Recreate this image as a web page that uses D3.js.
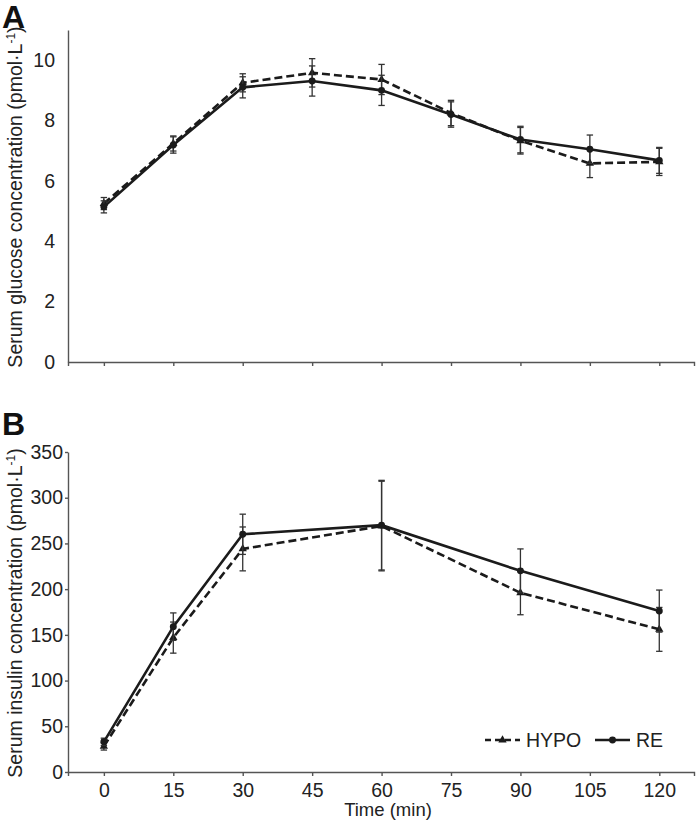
<!DOCTYPE html>
<html>
<head>
<meta charset="utf-8">
<script src="https://cdn.jsdelivr.net/npm/d3@7"></script>
<style>
  html, body { margin: 0; padding: 0; background: #fff; }
  svg { display: block; font-family: "Liberation Sans", Arial, sans-serif; }
</style>
</head>
<body>
<script>
// ---- data ----
const glucoseTimes = [0, 15, 30, 45, 60, 75, 90, 105, 120];
const glucoseHYPO = [5.25, 7.24, 9.25, 9.58, 9.36, 8.25, 7.33, 6.58, 6.63];
const glucoseHYPOErr = [0.2, 0.25, 0.3, 0.47, 0.5, 0.42, 0.44, 0.47, 0.45];
const glucoseRE = [5.14, 7.19, 9.10, 9.31, 9.0, 8.2, 7.37, 7.05, 6.68];
const glucoseREErr = [0.2, 0.27, 0.35, 0.5, 0.5, 0.42, 0.44, 0.47, 0.43];

const insulinTimes = [0, 15, 30, 60, 90, 120];
const insulinHYPO = [28, 147, 244, 269, 196, 156];
const insulinHYPOErr = [4, 17, 24, 49, 24, 24];
const insulinRE = [33, 159, 260, 270, 220, 176];
const insulinREErr = [4, 15, 22, 49, 24, 23];

const xTicks = [0, 15, 30, 45, 60, 75, 90, 105, 120];
const glucoseTicks = [0, 2, 4, 6, 8, 10];
const insulinTicks = [0, 50, 100, 150, 200, 250, 300, 350];
const seriesNames = ["HYPO", "RE"];

// ---- setup ----
const W = 698, H = 823;
const svg = d3.select("body").append("svg").attr("width", W).attr("height", H);
const textCol = "#222";
const axisCol = "#555";
const lineCol = "#1b1b1b";
const fs = 19.5;

const x = d3.scaleLinear().domain([-7.75, 127.5]).range([68, 694]);
const yA = d3.scaleLinear().domain([0, 11]).range([362, 30]);
const yB = d3.scaleLinear().domain([0, 350]).range([772, 452]);

function styleAxis(g) {
  g.selectAll("path.domain").attr("stroke", axisCol).attr("stroke-width", 1.4);
  g.selectAll(".tick line").attr("stroke", axisCol).attr("stroke-width", 1.4);
  g.selectAll(".tick text").attr("fill", textCol).style("font-size", fs + "px")
    .style("font-family", '"Liberation Sans", Arial, sans-serif');
}

function drawSeries(yScale, times, vals, errs, dashed, marker) {
  const pts = times.map((t, i) => ({ t, v: vals[i], e: errs[i] }));
  const g = svg.append("g");
  const eb = g.selectAll("g.eb").data(pts).enter().append("g");
  eb.append("line")
    .attr("x1", d => x(d.t)).attr("x2", d => x(d.t))
    .attr("y1", d => yScale(d.v - d.e)).attr("y2", d => yScale(d.v + d.e))
    .attr("stroke", "#333").attr("stroke-width", 1.3);
  [1, -1].forEach(s => {
    eb.append("line")
      .attr("x1", d => x(d.t) - 3.2).attr("x2", d => x(d.t) + 3.2)
      .attr("y1", d => yScale(d.v + s * d.e)).attr("y2", d => yScale(d.v + s * d.e))
      .attr("stroke", "#333").attr("stroke-width", 1.3);
  });
  const line = d3.line().x(d => x(d.t)).y(d => yScale(d.v));
  g.append("path").datum(pts).attr("d", line)
    .attr("fill", "none").attr("stroke", lineCol).attr("stroke-width", 2.6)
    .attr("stroke-dasharray", dashed ? "8,4" : null);
  g.selectAll("path.m").data(pts).enter().append("path")
    .attr("d", d3.symbol().type(marker).size(marker === d3.symbolTriangle ? 30 : 38))
    .attr("transform", d => `translate(${x(d.t)},${yScale(d.v)})`)
    .attr("fill", lineCol);
}

function yLabel(cy, main) {
  const t = svg.append("text")
    .attr("transform", `translate(22,${cy}) rotate(-90)`)
    .attr("text-anchor", "middle").attr("fill", textCol)
    .style("font-size", fs + "px");
  t.append("tspan").text(main + " (pmol·L");
  t.append("tspan").attr("dy", -7).style("font-size", "12px").text("-1");
  t.append("tspan").attr("dy", 7).text(")");
}

// ---- Panel A ----
const gxA = svg.append("g").attr("transform", `translate(0,${yA(0)})`)
  .call(d3.axisBottom(x).tickValues(xTicks).tickSize(4).tickSizeOuter(4).tickFormat(""));
styleAxis(gxA);
const gyA = svg.append("g").attr("transform", `translate(${x.range()[0]},0)`)
  .call(d3.axisLeft(yA).tickValues(glucoseTicks).tickSize(0).tickSizeOuter(0).tickPadding(13));
styleAxis(gyA);

drawSeries(yA, glucoseTimes, glucoseHYPO, glucoseHYPOErr, true, d3.symbolTriangle);
drawSeries(yA, glucoseTimes, glucoseRE, glucoseREErr, false, d3.symbolCircle);
yLabel(197, "Serum glucose concentration");
svg.append("text").attr("x", 2).attr("y", 28).attr("fill", "#111")
  .style("font-size", "32px").style("font-weight", "bold").text("A");

// ---- Panel B ----
const gxB = svg.append("g").attr("transform", `translate(0,${yB(0)})`)
  .call(d3.axisBottom(x).tickValues(xTicks).tickSize(4).tickSizeOuter(4).tickPadding(7));
styleAxis(gxB);
const gyB = svg.append("g").attr("transform", `translate(${x.range()[0]},0)`)
  .call(d3.axisLeft(yB).tickValues(insulinTicks).tickSize(3).tickSizeOuter(0).tickPadding(2));
styleAxis(gyB);

drawSeries(yB, insulinTimes, insulinHYPO, insulinHYPOErr, true, d3.symbolTriangle);
drawSeries(yB, insulinTimes, insulinRE, insulinREErr, false, d3.symbolCircle);
yLabel(613, "Serum insulin concentration");
svg.append("text").attr("x", 2).attr("y", 435).attr("fill", "#111")
  .style("font-size", "32px").style("font-weight", "bold").text("B");

svg.append("text").attr("x", 388).attr("y", 816).attr("text-anchor", "middle")
  .attr("fill", textCol).style("font-size", "18.5px").text("Time (min)");

// ---- Legend ----
const legend = [
  { name: seriesNames[0], x0: 485, x1: 520, tx: 526, dashed: true, marker: d3.symbolTriangle },
  { name: seriesNames[1], x0: 595, x1: 630, tx: 636, dashed: false, marker: d3.symbolCircle }
];
const ly = 740;
legend.forEach(l => {
  svg.append("line").attr("x1", l.x0).attr("x2", l.x1).attr("y1", ly).attr("y2", ly)
    .attr("stroke", lineCol).attr("stroke-width", 2.6)
    .attr("stroke-dasharray", l.dashed ? "6,4" : null);
  svg.append("path")
    .attr("d", d3.symbol().type(l.marker).size(l.marker === d3.symbolTriangle ? 30 : 38))
    .attr("transform", `translate(${(l.x0 + l.x1) / 2},${ly})`).attr("fill", lineCol);
  svg.append("text").attr("x", l.tx).attr("y", ly + 7).attr("fill", textCol)
    .style("font-size", fs + "px").text(l.name);
});
</script>
</body>
</html>
